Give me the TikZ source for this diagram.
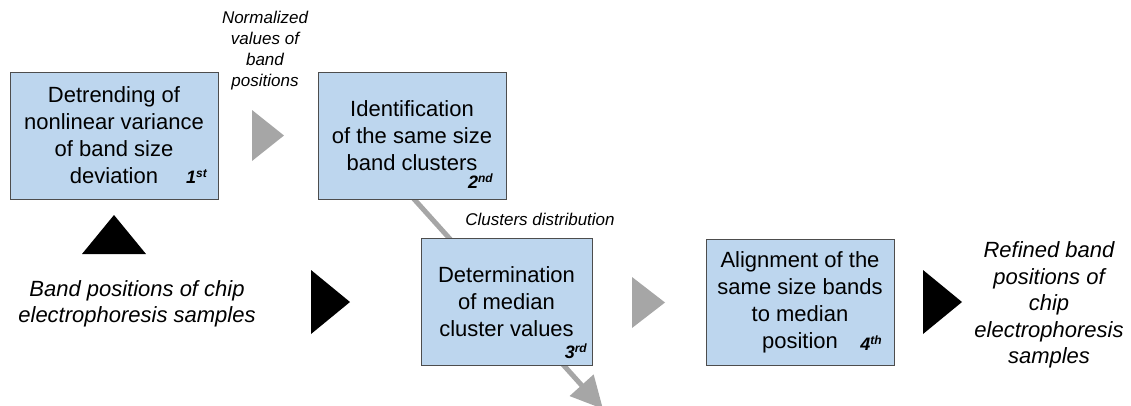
\documentclass[tikz,border=0pt]{standalone}
\usepackage{fontspec}
\setmainfont{Liberation Sans}
\usetikzlibrary{arrows.meta}
\definecolor{boxfill}{RGB}{189,214,238}
\definecolor{boxline}{RGB}{77,77,77}
\definecolor{flowgray}{RGB}{166,166,166}
\tikzset{
  stepbox/.style={draw=boxline, fill=boxfill, line width=1pt, inner sep=0pt, outer sep=0pt,
    align=center, font=\fontsize{22}{27}\selectfont},
  ordinal/.style={anchor=base east, inner sep=0pt, font=\fontsize{18}{18}\selectfont\bfseries\itshape},
  note/.style={align=center, inner sep=0pt, font=\fontsize{17}{21}\selectfont\itshape},
  datalabel/.style={align=center, inner sep=0pt, font=\fontsize{22}{26.5}\selectfont\itshape},
  graytri/.style={fill=flowgray},
  blacktri/.style={fill=black},
}
\newcommand{\ord}[2]{#1\raisebox{6pt}{\fontsize{12}{12}\selectfont #2}}
\begin{document}
\begin{tikzpicture}[x=1pt, y=-1pt]
\useasboundingbox (0,0) rectangle (1131,405);

% diagonal flow line running behind steps 2 and 3
\coordinate (diagA) at (396,179);
\coordinate (diagB) at (603,409);
\draw[flowgray, line width=5pt, -{Triangle[width=31pt,length=32pt]}] (diagA) -- (diagB);

% processing steps
\node[stepbox, minimum width=208pt, minimum height=127pt] (b1) at (114,135.5)
  {Detrending of\\nonlinear variance\\of band size\\deviation};
\node[stepbox, minimum width=188pt, minimum height=127pt] (b2) at (412,135.5)
  {Identification\\of the same size\\band clusters};
\node[stepbox, minimum width=171pt, minimum height=127pt] (b3) at (506.5,301.5)
  {Determination\\of median\\cluster values};
\node[stepbox, minimum width=188pt, minimum height=126pt] (b4) at (800,302)
  {Alignment of the\\same size bands\\to median\\position};

% step numbers
\node[ordinal] (o1) at ([xshift=-11pt,yshift=16pt]b1.south east) {\ord{1}{st}};
\node[ordinal] (o2) at ([xshift=-13pt,yshift=11pt]b2.south east) {\ord{2}{nd}};
\node[ordinal] (o3) at ([xshift=-5pt,yshift=7pt]b3.south east) {\ord{3}{rd}};
\node[ordinal] (o4) at ([xshift=-12pt,yshift=15pt]b4.south east) {\ord{4}{th}};

% inputs, outputs and annotations
\node[note] (norm) at (265,51) {Normalized\\values of\\band\\positions};
\node[note, anchor=base] (clust) at (540,225) {Clusters distribution};
\node[datalabel] (input) at (137,304) {Band positions of chip\\electrophoresis samples};
\node[datalabel] (output) at (1049,305) {Refined band\\positions of\\chip\\electrophoresis\\samples};

% flow triangles
\fill[graytri] (252,110) -- (252,161) -- (284,135.5) -- cycle;
\fill[graytri] (632,277) -- (632,328) -- (665,302.5) -- cycle;
\fill[blacktri] (82,254) -- (146,254) -- (114,215) -- cycle;
\fill[blacktri] (311,270) -- (311,334) -- (350,302) -- cycle;
\fill[blacktri] (923,270) -- (923,334) -- (962,302) -- cycle;
\end{tikzpicture}
\end{document}
